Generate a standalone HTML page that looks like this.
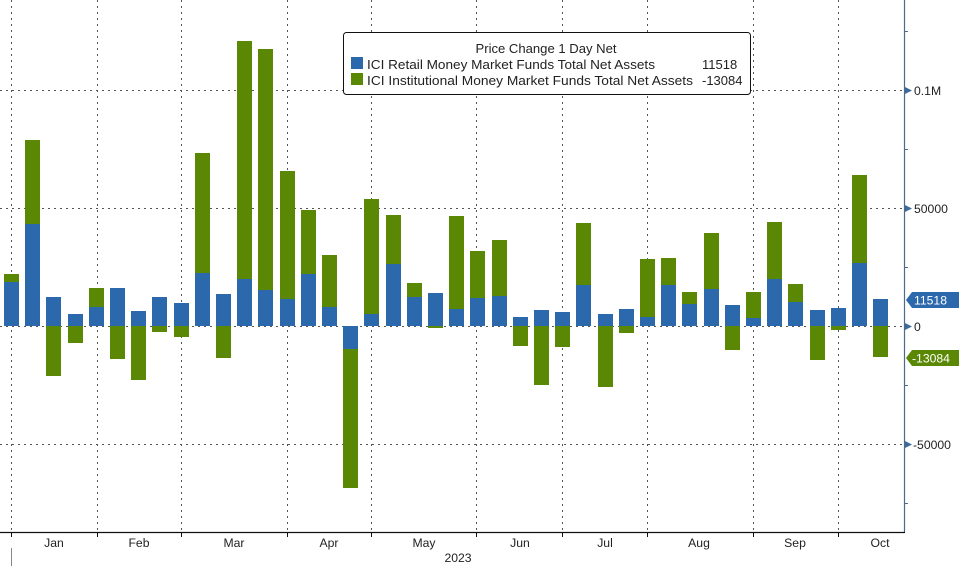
<!DOCTYPE html>
<html>
<head>
<meta charset="utf-8">
<style>
html,body{margin:0;padding:0;background:#fff;}
svg{display:block;}
text{font-family:"Liberation Sans","DejaVu Sans",sans-serif;}
</style>
</head>
<body>
<svg width="959" height="566" viewBox="0 0 959 566" xmlns="http://www.w3.org/2000/svg">
<rect x="0" y="0" width="959" height="566" fill="#fff"/>
<g stroke="#555" stroke-width="1" stroke-dasharray="2,4" fill="none">
<line x1="0" y1="90.5" x2="904" y2="90.5"/>
<line x1="0" y1="208.5" x2="904" y2="208.5"/>
<line x1="0" y1="326.5" x2="904" y2="326.5"/>
<line x1="0" y1="444.5" x2="904" y2="444.5"/>
<line x1="11.5" y1="0" x2="11.5" y2="532"/>
<line x1="97.5" y1="0" x2="97.5" y2="532"/>
<line x1="181.5" y1="0" x2="181.5" y2="532"/>
<line x1="287.5" y1="0" x2="287.5" y2="532"/>
<line x1="371.5" y1="0" x2="371.5" y2="532"/>
<line x1="476.5" y1="0" x2="476.5" y2="532"/>
<line x1="562.5" y1="0" x2="562.5" y2="532"/>
<line x1="647.5" y1="0" x2="647.5" y2="532"/>
<line x1="753.5" y1="0" x2="753.5" y2="532"/>
<line x1="838.5" y1="0" x2="838.5" y2="532"/>
</g>
<g shape-rendering="crispEdges">
<g fill="#2c69ac">
<rect x="4" y="282" width="15" height="44"/>
<rect x="25" y="224" width="15" height="102"/>
<rect x="46" y="297" width="15" height="29"/>
<rect x="68" y="314" width="15" height="12"/>
<rect x="89" y="307" width="15" height="19"/>
<rect x="110" y="288" width="15" height="38"/>
<rect x="131" y="311" width="15" height="15"/>
<rect x="152" y="297" width="15" height="29"/>
<rect x="174" y="303" width="15" height="23"/>
<rect x="195" y="273" width="15" height="53"/>
<rect x="216" y="294" width="15" height="32"/>
<rect x="237" y="279" width="15" height="47"/>
<rect x="258" y="290" width="15" height="36"/>
<rect x="280" y="299" width="15" height="27"/>
<rect x="301" y="274" width="15" height="52"/>
<rect x="322" y="307" width="15" height="19"/>
<rect x="343" y="326" width="15" height="23"/>
<rect x="364" y="314" width="15" height="12"/>
<rect x="386" y="264" width="15" height="62"/>
<rect x="407" y="297" width="15" height="29"/>
<rect x="428" y="293" width="15" height="33"/>
<rect x="449" y="309" width="15" height="17"/>
<rect x="470" y="298" width="15" height="28"/>
<rect x="492" y="296" width="15" height="30"/>
<rect x="513" y="317" width="15" height="9"/>
<rect x="534" y="310" width="15" height="16"/>
<rect x="555" y="312" width="15" height="14"/>
<rect x="576" y="285" width="15" height="41"/>
<rect x="598" y="314" width="15" height="12"/>
<rect x="619" y="309" width="15" height="17"/>
<rect x="640" y="317" width="15" height="9"/>
<rect x="661" y="285" width="15" height="41"/>
<rect x="682" y="304" width="15" height="22"/>
<rect x="704" y="289" width="15" height="37"/>
<rect x="725" y="305" width="15" height="21"/>
<rect x="746" y="318" width="15" height="8"/>
<rect x="767" y="279" width="15" height="47"/>
<rect x="788" y="302" width="15" height="24"/>
<rect x="810" y="310" width="15" height="16"/>
<rect x="831" y="308" width="15" height="18"/>
<rect x="852" y="263" width="15" height="63"/>
<rect x="873" y="299" width="15" height="27"/>
</g>
<g fill="#5a8804">
<rect x="4" y="274" width="15" height="8"/>
<rect x="25" y="140" width="15" height="84"/>
<rect x="46" y="326" width="15" height="50"/>
<rect x="68" y="326" width="15" height="17"/>
<rect x="89" y="288" width="15" height="19"/>
<rect x="110" y="326" width="15" height="33"/>
<rect x="131" y="326" width="15" height="54"/>
<rect x="152" y="326" width="15" height="6"/>
<rect x="174" y="326" width="15" height="11"/>
<rect x="195" y="153" width="15" height="120"/>
<rect x="216" y="326" width="15" height="32"/>
<rect x="237" y="41" width="15" height="238"/>
<rect x="258" y="49" width="15" height="241"/>
<rect x="280" y="171" width="15" height="128"/>
<rect x="301" y="210" width="15" height="64"/>
<rect x="322" y="255" width="15" height="52"/>
<rect x="343" y="349" width="15" height="139"/>
<rect x="364" y="199" width="15" height="115"/>
<rect x="386" y="215" width="15" height="49"/>
<rect x="407" y="283" width="15" height="14"/>
<rect x="428" y="326" width="15" height="2"/>
<rect x="449" y="216" width="15" height="93"/>
<rect x="470" y="251" width="15" height="47"/>
<rect x="492" y="240" width="15" height="56"/>
<rect x="513" y="326" width="15" height="20"/>
<rect x="534" y="326" width="15" height="59"/>
<rect x="555" y="326" width="15" height="21"/>
<rect x="576" y="223" width="15" height="62"/>
<rect x="598" y="326" width="15" height="61"/>
<rect x="619" y="326" width="15" height="7"/>
<rect x="640" y="259" width="15" height="58"/>
<rect x="661" y="258" width="15" height="27"/>
<rect x="682" y="292" width="15" height="12"/>
<rect x="704" y="233" width="15" height="56"/>
<rect x="725" y="326" width="15" height="24"/>
<rect x="746" y="292" width="15" height="26"/>
<rect x="767" y="222" width="15" height="57"/>
<rect x="788" y="284" width="15" height="18"/>
<rect x="810" y="326" width="15" height="34"/>
<rect x="831" y="326" width="15" height="4"/>
<rect x="852" y="175" width="15" height="88"/>
<rect x="873" y="326" width="15" height="31"/>
</g>
</g>
<rect x="343.5" y="32.5" width="407" height="62" rx="3" ry="3" fill="#fff" stroke="#111" stroke-width="1"/>
<text x="546" y="53" font-size="13" fill="#222" text-anchor="middle" textLength="141" lengthAdjust="spacingAndGlyphs">Price Change 1 Day Net</text>
<rect x="351" y="57" width="12" height="12" fill="#2c69ac"/>
<rect x="351" y="73" width="12" height="12" fill="#5a8804"/>
<text x="367" y="69" font-size="13" fill="#222" textLength="288" lengthAdjust="spacingAndGlyphs">ICI Retail Money Market Funds Total Net Assets</text>
<text x="367" y="85" font-size="13" fill="#222" textLength="326" lengthAdjust="spacingAndGlyphs">ICI Institutional Money Market Funds Total Net Assets</text>
<text x="702" y="69" font-size="13" fill="#222">11518</text>
<text x="702" y="85" font-size="13" fill="#222">-13084</text>
<line x1="904.5" y1="0" x2="904.5" y2="532" stroke="#4d6a88" stroke-width="1.2"/>
<g stroke="#4d6a88" stroke-width="1">
<line x1="905" y1="31.5" x2="908" y2="31.5"/>
<line x1="905" y1="149.5" x2="908" y2="149.5"/>
<line x1="905" y1="267.5" x2="908" y2="267.5"/>
<line x1="905" y1="385.5" x2="908" y2="385.5"/>
<line x1="905" y1="503.5" x2="908" y2="503.5"/>
</g>
<g fill="#3d6a9c">
<polygon points="905,87 912,90.5 905,94"/>
<polygon points="905,205 912,208.5 905,212"/>
<polygon points="905,323 912,326.5 905,330"/>
<polygon points="905,441 912,444.5 905,448"/>
</g>
<g font-size="12.2" fill="#222">
<text x="914" y="95">0.1M</text>
<text x="914" y="213">50000</text>
<text x="914" y="331">0</text>
<text x="913" y="449">-50000</text>
</g>
<polygon points="906,300 912,292 959,292 959,308 912,308" fill="#2c69ac"/>
<text x="914" y="304.5" font-size="12.2" fill="#fff">11518</text>
<polygon points="906,358 912,350 959,350 959,366 912,366" fill="#5a8804"/>
<text x="912" y="362.5" font-size="12.2" fill="#fff">-13084</text>
<line x1="0" y1="532.5" x2="905" y2="532.5" stroke="#111" stroke-width="1.2"/>
<g stroke="#111" stroke-width="1">
<line x1="11.5" y1="532" x2="11.5" y2="537"/>
<line x1="97.5" y1="532" x2="97.5" y2="537"/>
<line x1="181.5" y1="532" x2="181.5" y2="537"/>
<line x1="287.5" y1="532" x2="287.5" y2="537"/>
<line x1="371.5" y1="532" x2="371.5" y2="537"/>
<line x1="476.5" y1="532" x2="476.5" y2="537"/>
<line x1="562.5" y1="532" x2="562.5" y2="537"/>
<line x1="647.5" y1="532" x2="647.5" y2="537"/>
<line x1="753.5" y1="532" x2="753.5" y2="537"/>
<line x1="838.5" y1="532" x2="838.5" y2="537"/>
</g>
<line x1="11.5" y1="548" x2="11.5" y2="566" stroke="#888" stroke-width="1"/>
<g font-size="12.2" fill="#222" text-anchor="middle">
<text x="54" y="547">Jan</text>
<text x="139" y="547">Feb</text>
<text x="234" y="547">Mar</text>
<text x="329" y="547">Apr</text>
<text x="424" y="547">May</text>
<text x="520" y="547">Jun</text>
<text x="605" y="547">Jul</text>
<text x="699" y="547">Aug</text>
<text x="795" y="547">Sep</text>
<text x="880" y="547">Oct</text>
<text x="458" y="562">2023</text>
</g>
</svg>
</body>
</html>
